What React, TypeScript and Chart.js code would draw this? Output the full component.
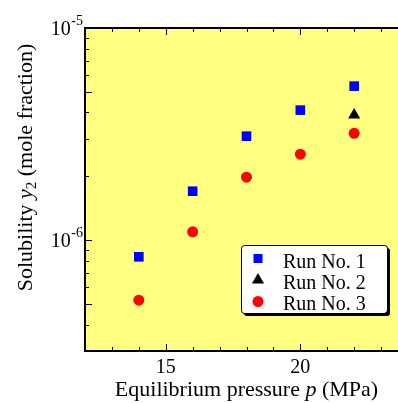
import React, { useEffect, useRef } from "react";
import { Chart, registerables } from "chart.js";

Chart.register(...registerables);

// ---- data ----
const pressures = [14, 16, 18, 20, 22];
const run1 = [8.34e-7, 1.7e-6, 3.09e-6, 4.1e-6, 5.32e-6];
const run2Pressures = [22];
const run2 = [3.89e-6];
const run3 = [5.21e-7, 1.094e-6, 1.98e-6, 2.54e-6, 3.19e-6];
const seriesLabels = ["Run No. 1", "Run No. 2", "Run No. 3"];
const xMajorTicks = [15, 20];
const yLabelExponents = [-5, -6];
const xTitleParts = ["Equilibrium pressure ", "p", " (MPa)"];
const yTitleParts = ["Solubility ", "y", "2", " (mole fraction)"];

const X_MIN = 12;
const X_MAX = 24;
const Y_MIN = 3e-7;
const Y_MAX = 1e-5;

const FONT = '"Liberation Serif", "Times New Roman", serif';
const BLUE = "#0000FF";
const RED = "#FF0000";
const BLACK = "#000000";
const YELLOW = "#FFFF80";

function line(ctx: CanvasRenderingContext2D, x1: number, y1: number, x2: number, y2: number) {
  ctx.beginPath();
  ctx.moveTo(x1, y1);
  ctx.lineTo(x2, y2);
  ctx.stroke();
}

function drawMarker(ctx: CanvasRenderingContext2D, kind: number, x: number, y: number) {
  ctx.beginPath();
  if (kind === 0) {
    ctx.fillStyle = BLUE;
    ctx.rect(x - 4.5, y - 4.5, 9, 9);
  } else if (kind === 1) {
    ctx.fillStyle = BLACK;
    const r = 7;
    for (let i = 0; i < 3; i++) {
      const a = (i * 2 * Math.PI) / 3;
      const px = x + Math.sin(a) * r;
      const py = y - Math.cos(a) * r;
      if (i === 0) ctx.moveTo(px, py);
      else ctx.lineTo(px, py);
    }
    ctx.closePath();
  } else {
    ctx.fillStyle = RED;
    ctx.arc(x, y, 5.5, 0, Math.PI * 2);
  }
  ctx.fill();
}

const framePlugin = {
  id: "frame",
  beforeDatasetsDraw(chart: any) {
    const { ctx, chartArea: a } = chart;
    ctx.save();
    ctx.fillStyle = YELLOW;
    ctx.fillRect(a.left, a.top, a.right - a.left, a.bottom - a.top);
    ctx.restore();
  },
  afterDatasetsDraw(chart: any) {
    const { ctx, chartArea: a, scales } = chart;
    const xs = scales.x;
    const ys = scales.y;
    ctx.save();
    ctx.strokeStyle = BLACK;
    ctx.fillStyle = BLACK;

    // x ticks (bottom and top, inward)
    ctx.lineWidth = 1;
    for (let v = X_MIN; v <= X_MAX; v++) {
      const px = Math.round(xs.getPixelForValue(v)) + 0.5;
      const len = xMajorTicks.includes(v) ? 7 : 4;
      line(ctx, px, a.bottom, px, a.bottom - len);
      line(ctx, px, a.top, px, a.top + len);
    }
    // y ticks (left, inward)
    for (let e = -7; e <= -5; e++) {
      for (let m = 1; m <= 9; m++) {
        const v = m * Math.pow(10, e);
        if (v < Y_MIN * 0.999 || v > Y_MAX * 1.001) continue;
        const py = Math.round(ys.getPixelForValue(v)) + 0.5;
        const len = m === 1 || m === 5 ? 7 : 4;
        line(ctx, a.left, py, a.left + len, py);
      }
    }

    // frame: left, bottom, top
    ctx.lineWidth = 2;
    line(ctx, a.left, a.top, a.left, a.bottom + 1);
    line(ctx, a.left - 1, a.bottom, a.right + 5, a.bottom);
    line(ctx, a.left - 1, a.top, a.right + 5, a.top);

    // x tick labels
    ctx.font = `20px ${FONT}`;
    ctx.textAlign = "center";
    ctx.textBaseline = "alphabetic";
    xMajorTicks.forEach((v) => {
      ctx.fillText(String(v), xs.getPixelForValue(v), 373);
    });

    // y tick labels 10^e
    yLabelExponents.forEach((e) => {
      const py = ys.getPixelForValue(Math.pow(10, e));
      const sup = String(e);
      ctx.font = `14px ${FONT}`;
      ctx.textAlign = "right";
      const supRight = a.left - 2;
      ctx.fillText(sup, supRight, py - 3.5);
      const supW = ctx.measureText(sup).width;
      ctx.font = `20px ${FONT}`;
      ctx.fillText("10", supRight - supW - 0.5, py + 7);
    });

    // x title
    ctx.textAlign = "left";
    const xFonts = [`22px ${FONT}`, `italic 22px ${FONT}`, `22px ${FONT}`];
    let total = 0;
    const widths = xTitleParts.map((t, i) => {
      ctx.font = xFonts[i];
      const w = ctx.measureText(t).width;
      total += w;
      return w;
    });
    let cx = (a.left + a.right) / 2 - total / 2;
    xTitleParts.forEach((t, i) => {
      ctx.font = xFonts[i];
      ctx.fillText(t, cx, 396);
      cx += widths[i];
    });

    // y title (rotated)
    const yFonts = [`22px ${FONT}`, `italic 22px ${FONT}`, `15px ${FONT}`, `22px ${FONT}`];
    const yOffsets = [0, 0, 4, 0];
    let ytotal = 0;
    const ywidths = yTitleParts.map((t, i) => {
      ctx.font = yFonts[i];
      const w = ctx.measureText(t).width;
      ytotal += w;
      return w;
    });
    ctx.save();
    ctx.translate(32, 167.5);
    ctx.rotate(-Math.PI / 2);
    let cy = -ytotal / 2;
    yTitleParts.forEach((t, i) => {
      ctx.font = yFonts[i];
      ctx.fillText(t, cy, yOffsets[i]);
      cy += ywidths[i];
    });
    ctx.restore();

    // legend
    const lx = 241, ly = 245, lw = 146, lh = 68, r = 3;
    const rr = (x: number, y: number) => {
      ctx.beginPath();
      ctx.moveTo(x + r, y);
      ctx.lineTo(x + lw - r, y);
      ctx.quadraticCurveTo(x + lw, y, x + lw, y + r);
      ctx.lineTo(x + lw, y + lh - r);
      ctx.quadraticCurveTo(x + lw, y + lh, x + lw - r, y + lh);
      ctx.lineTo(x + r, y + lh);
      ctx.quadraticCurveTo(x, y + lh, x, y + lh - r);
      ctx.lineTo(x, y + r);
      ctx.quadraticCurveTo(x, y, x + r, y);
      ctx.closePath();
    };
    ctx.fillStyle = BLACK;
    rr(lx + 3, ly + 3);
    ctx.fill();
    ctx.fillStyle = "#FFFFFF";
    rr(lx, ly);
    ctx.fill();
    ctx.lineWidth = 1;
    ctx.strokeStyle = BLACK;
    rr(lx + 0.5, ly + 0.5);
    ctx.stroke();

    const baselines = [268, 289, 309.5];
    const markerY = [258.5, 280, 301.5];
    ctx.font = `20px ${FONT}`;
    ctx.textAlign = "left";
    seriesLabels.forEach((lab, i) => {
      drawMarker(ctx, i, 258, markerY[i]);
      ctx.fillStyle = BLACK;
      ctx.fillText(lab, 283, baselines[i]);
    });

    ctx.restore();
  },
};

export default function App() {
  const canvasRef = useRef<HTMLCanvasElement | null>(null);

  useEffect(() => {
    const canvas = canvasRef.current;
    if (!canvas) return;
    const chart = new Chart(canvas, {
      type: "scatter",
      data: {
        datasets: [
          {
            label: seriesLabels[0],
            data: pressures.map((x, i) => ({ x, y: run1[i] })),
            pointStyle: "rect",
            pointRadius: 6.8,
            backgroundColor: BLUE,
            borderWidth: 0,
          },
          {
            label: seriesLabels[1],
            data: run2Pressures.map((x, i) => ({ x, y: run2[i] })),
            pointStyle: "triangle",
            pointRadius: 7,
            backgroundColor: BLACK,
            borderWidth: 0,
          },
          {
            label: seriesLabels[2],
            data: pressures.map((x, i) => ({ x, y: run3[i] })),
            pointStyle: "circle",
            pointRadius: 5.5,
            backgroundColor: RED,
            borderWidth: 0,
          },
        ],
      },
      options: {
        animation: false,
        responsive: false,
        devicePixelRatio: 1,
        layout: { padding: { left: 85, top: 28, right: 12, bottom: 52 } },
        scales: {
          x: { type: "linear", min: X_MIN, max: X_MAX, display: false },
          y: { type: "logarithmic", min: Y_MIN, max: Y_MAX, display: false },
        },
        plugins: {
          legend: { display: false },
          tooltip: { enabled: false },
        },
      },
      plugins: [framePlugin],
    });
    return () => chart.destroy();
  }, []);

  return (
    <div
      style={{
        position: "fixed",
        left: 0,
        top: 0,
        width: 398,
        height: 403,
        overflow: "hidden",
        background: "#ffffff",
      }}
    >
      <canvas ref={canvasRef} width={420} height={403} style={{ width: 420, height: 403, display: "block" }} />
    </div>
  );
}
